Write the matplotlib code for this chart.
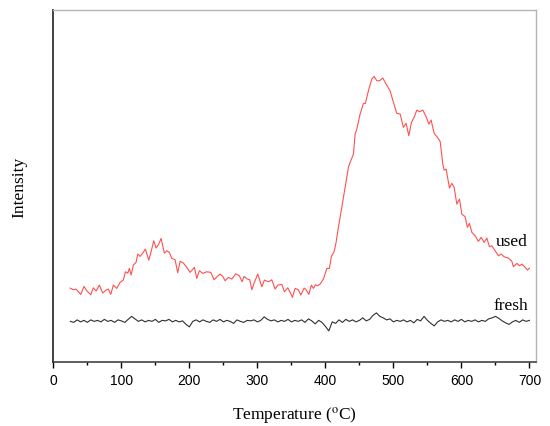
import numpy as np
import matplotlib
matplotlib.use("Agg")
import matplotlib.pyplot as plt
from matplotlib.ticker import MultipleLocator

# "used" sample (temperature in C, intensity in a.u.)
used_temp = [
    24.6, 29.4, 33.4, 36.8, 40.3, 45.1, 49.1, 55.0, 58.8, 62.8, 67.6, 72.6, 77.5, 80.9,
    84.4, 88.2, 93.2, 98.1, 102.9, 105.9, 109.4, 111.8, 114.3, 117.6, 121.6, 124.1,
    127.5, 131.5, 135.3, 140.3, 143.7, 147.6, 151.0, 155.0, 158.4, 163.2, 166.8, 170.6,
    174.1, 179.0, 182.9, 186.3, 191.2, 195.1, 201.0, 207.4, 210.9, 214.7, 219.7, 225.6,
    231.5, 236.3, 241.2, 245.1, 249.1, 252.5, 257.4, 262.4, 268.2, 273.5, 277.5, 280.4,
    285.3, 288.8, 291.8, 295.6, 300.6, 306.5, 310.3, 316.2, 321.2, 326.0, 330.0, 335.9,
    339.7, 344.7, 348.1, 351.5, 355.4, 360.3, 363.8, 368.7, 371.6, 375.6, 379.4, 382.4,
    385.3, 388.2, 392.2, 397.1, 402.1, 405.9, 408.8, 412.8, 415.7, 419.1, 424.1, 429.0,
    433.8, 436.3, 441.2, 443.7, 446.2, 451.0, 455.9, 458.8, 463.2, 468.2, 471.6, 475.6,
    479.4, 484.4, 489.3, 495.1, 500.0, 505.0, 509.9, 514.7, 518.7, 522.6, 526.5, 530.4,
    534.4, 538.2, 543.2, 548.1, 552.1, 555.4, 559.9, 564.7, 568.7, 572.6, 574.6, 577.5,
    582.4, 585.9, 589.3, 593.2, 597.1, 600.6, 605.4, 608.8, 611.8, 615.3, 620.1, 625.0,
    629.0, 633.4, 637.4, 641.2, 644.7, 649.6, 654.4, 658.4, 662.8, 669.1, 674.1, 676.5,
    681.5, 685.3, 688.8, 693.7, 697.1, 700.0,
]
used_int = [
    74.3, 72.6, 73.3, 70.6, 68.0, 76.0, 71.6, 67.6, 74.6, 71.3, 77.3, 69.3, 72.3, 73.3,
    68.0, 77.3, 74.0, 80.0, 82.3, 90.6, 89.3, 94.0, 87.3, 97.3, 100.0, 108.3,
    106.0, 109.3, 113.3, 102.3, 110.6, 121.6, 114.3, 118.3, 124.0, 109.3, 111.6, 110.0,
    104.0, 102.6, 89.6, 101.0, 99.3, 96.0, 90.0, 95.0, 84.0, 91.6, 89.0, 90.6,
    90.0, 82.6, 86.0, 88.3, 86.0, 81.6, 85.0, 83.3, 88.6, 86.6, 80.6, 86.0,
    83.3, 82.6, 72.6, 80.0, 88.3, 75.6, 82.3, 80.6, 82.6, 73.3, 77.3, 78.0,
    70.6, 74.6, 70.0, 65.0, 74.0, 72.6, 67.3, 74.3, 72.6, 68.0, 77.3, 74.0,
    77.6, 76.6, 78.3, 83.3, 94.0, 94.0, 106.0, 110.6, 120.0, 135.0, 155.0, 175.0,
    195.0, 200.0, 208.3, 228.3, 233.3, 248.3, 259.0, 259.0, 271.6, 283.3, 286.0, 281.6,
    281.6, 284.3, 278.3, 271.6, 260.0, 249.0, 248.3, 235.0, 239.0, 226.6, 240.0, 245.0,
    252.3, 250.6, 252.3, 245.6, 238.3, 242.3, 229.0, 225.0, 221.0, 198.3, 192.3, 193.3,
    174.3, 179.0, 175.0, 158.3, 163.3, 148.3, 145.6, 135.0, 139.0, 130.0, 126.6, 121.0,
    125.0, 120.0, 124.3, 115.6, 116.6, 111.6, 106.6, 108.3, 105.6, 104.3, 101.0, 95.6,
    99.0, 96.6, 98.3, 95.0, 92.3, 94.3,
]

# "fresh" sample, every 5 C from 25 to 700 C
fresh_temp = np.arange(25, 705, 5)
fresh_int = [
    41.0, 40.0, 42.5, 40.5, 42.0, 40.0, 42.5, 41.0, 42.0, 40.5, 43.0, 41.0, 42.0, 40.0,
    42.5, 41.5, 40.0, 43.0, 46.0, 43.5, 41.0, 42.5, 40.5, 42.0, 41.0, 43.0, 40.0, 42.0,
    41.5, 43.0, 40.5, 42.0, 40.5, 41.5, 38.0, 35.5, 41.0, 42.5, 40.5, 42.5, 41.0, 40.0,
    42.5, 41.0, 43.0, 40.5, 42.0, 41.0, 39.0, 42.5, 41.0, 40.0, 42.0, 41.5, 42.5, 40.5,
    42.0, 45.5, 43.0, 41.5, 42.5, 40.5, 42.0, 41.0, 43.0, 40.5, 42.0, 41.0, 42.5, 40.0,
    43.5, 41.5, 38.5, 42.0, 40.0, 36.0, 31.5, 40.5, 39.0, 42.5, 40.0, 43.0, 41.0, 42.5,
    40.5, 42.0, 44.5, 41.5, 43.0, 47.0, 49.5, 46.0, 44.5, 42.5, 43.5, 40.5, 42.0, 41.0,
    42.5, 40.5, 42.0, 39.5, 43.0, 41.5, 46.0, 42.0, 39.0, 36.5, 40.5, 42.5, 41.0, 42.0,
    40.5, 42.5, 41.0, 43.0, 40.5, 42.0, 41.0, 42.5, 40.5, 42.0, 41.0, 43.5, 44.5, 46.0,
    44.0, 41.5, 39.5, 38.0, 40.5, 42.0, 40.0, 42.5, 41.0, 42.0,
]

x_ticks = [0, 100, 200, 300, 400, 500, 600, 700]

plt.rcParams["mathtext.fontset"] = "stix"
serif = ["Liberation Serif", "DejaVu Serif"]
sans = ["Liberation Sans", "DejaVu Sans"]

fig = plt.figure(figsize=(5.5, 4.27), dpi=100)
ax = fig.add_axes([0.097, 0.149, 0.878, 0.826])

ax.plot(used_temp, used_int, color="#ff5050", linewidth=0.8)
ax.plot(fresh_temp, fresh_int, color="#303030", linewidth=0.8)

ax.text(698, 121, "used", ha="right", va="center", fontsize=12.5, family=serif)
ax.text(698, 57, "fresh", ha="right", va="center", fontsize=12.5, family=serif)

ax.set_xlim(0, 710)
ax.set_ylim(0, 352.7)
ax.set_xticks(x_ticks)
ax.xaxis.set_minor_locator(MultipleLocator(50))
ax.set_yticks([])
ax.tick_params(axis="x", which="major", direction="out", length=4, width=1, pad=4, labelsize=10)
ax.tick_params(axis="x", which="minor", direction="out", length=2.5, width=1)
for lab in ax.get_xticklabels():
    lab.set_family(sans)

ax.set_xlabel(r"Temperature ($^{\mathrm{o}}$C)", fontsize=12.5, family=serif, labelpad=12)
ax.set_ylabel("Intensity", fontsize=12.5, family=serif, labelpad=19)

ax.spines["left"].set_color("#333333")
ax.spines["bottom"].set_color("#333333")
ax.spines["left"].set_linewidth(1.3)
ax.spines["bottom"].set_linewidth(1.1)
ax.spines["top"].set_color("#b5b5b5")
ax.spines["right"].set_color("#b5b5b5")
ax.spines["top"].set_linewidth(1.0)
ax.spines["right"].set_linewidth(1.0)

fig.savefig("out.png", dpi=100)
